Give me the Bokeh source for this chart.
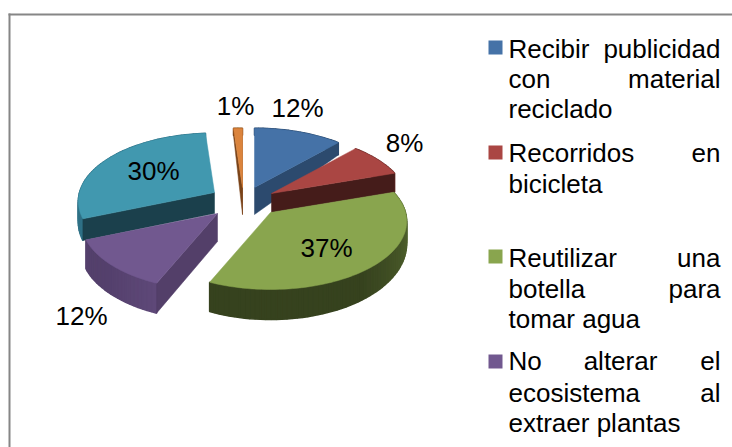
import numpy as np
from bokeh.plotting import figure
from bokeh.embed import file_html
from bokeh.resources import INLINE
from bokeh.core.properties import value

# ---- data ----
categories = ["Recibir publicidad con material reciclado", "Recorridos en bicicleta",
              "Reutilizar una botella para tomar agua", "No alterar el ecosistema al extraer plantas",
              "", ""]
values = [11.9, 8.0, 36.6, 12.4, 29.9, 1.2]
labels = [f"{round(v)}%" for v in values]
legend_lines = [
    [["Recibir", "publicidad"], ["con", "material"], ["reciclado"]],
    [["Recorridos", "en"], ["bicicleta"]],
    [["Reutilizar", "una"], ["botella", "para"], ["tomar agua"]],
    [["No", "alterar", "el"], ["ecosistema", "al"], ["extraer plantas"]],
]

# ---- styling / layout (page pixel coordinates) ----
top_colors = ["#4572A7", "#AA4643", "#89A54E", "#71588F", "#4198AF", "#DB843D"]
wall_colors = ["#2C4A6E", "#451C1A", "#3A4620", "#533F69", "#1B404C", "#7A4318"]
rim_a = ["#2C4A6E", "#6E2E2C", "#5F7436", "#5E4878", "#2F7186", "#8F5526"]
rim_b = ["#2C4A6E", "#6E2E2C", "#36421E", "#54406C", "#2F7186", "#8F5526"]
apex = [(254, 187), (271, 193), (270, 212), (217, 213), (214, 192), (242, 187)]
depth0 = [27, 19, 21, 28, 21, 27]
depth1 = [20, 0, 9, 2, 2, 20]
# which cut faces (start, end) of each slice can be seen
cut_visible = [(False, True), (False, True), (False, False), (True, False), (True, False), (True, True)]
draw_order = [5, 0, 1, 4, 3, 2]
A, B, P = 135.0, 67.0, 0.13
label_pos = [(297, 107), (404, 142), (326, 247), (81, 315), (153, 170), (235, 105)]
FONT = value("Liberation Sans")
SIZE = value("26px")

p = figure(width=732, height=447, x_range=(0, 732), y_range=(447, 0),
           x_axis_location=None, y_axis_location=None, toolbar_location=None,
           output_backend="svg", min_border=0, outline_line_color=None,
           background_fill_color="white", border_fill_color="white")
p.grid.visible = False

# frame of the chart, clipped by the picture on the right and at the bottom
p.line([8, 732], [14, 14], line_color="#868686", line_width=2)
p.line([9, 9], [13, 447], line_color="#868686", line_width=2)


def project(i, theta):
    X, Y = np.sin(theta), -np.cos(theta)
    s = 1.0 / (1.0 - P * Y)
    x = apex[i][0] + A * X * s
    y = apex[i][1] + B * Y * s
    d = depth0[i] + depth1[i] * Y
    return x, y, d


def hex2rgb(h):
    return np.array([int(h[k:k + 2], 16) for k in (1, 3, 5)], dtype=float)


def mix(a, b, t):
    c = hex2rgb(a) * (1 - t) + hex2rgb(b) * t
    return "#%02x%02x%02x" % tuple(int(round(v)) for v in c)


cum = np.cumsum([0] + values) / float(sum(values)) * 2 * np.pi

for i in draw_order:
    t0, t1 = cum[i], cum[i + 1]
    ax, ay = apex[i]
    wall = wall_colors[i]
    # outer rim, shaded along the arc
    th = np.linspace(t0, t1, max(3, int((t1 - t0) * 30)))
    for k in range(len(th) - 1):
        xa, ya, da = project(i, th[k])
        xb, yb, db = project(i, th[k + 1])
        c = mix(rim_a[i], rim_b[i], min(1.0, k / max(1, (len(th) - 2) * 0.55)))
        p.patch([xa, xb, xb, xa], [ya, yb, yb + db, ya + da],
                fill_color=c, line_color=c, line_width=1.5)
    # cut faces
    for t, vis in zip((t0, t1), cut_visible[i]):
        if vis:
            x, y, d = project(i, t)
            p.patch([ax, x, x, ax], [ay, y, y + d, ay + depth0[i]],
                    fill_color=wall, line_color=wall, line_width=0.5)
    # top face
    th = np.linspace(t0, t1, 80)
    xs, ys, _ = project(i, th)
    p.patch(np.r_[ax, xs], np.r_[ay, ys], fill_color=top_colors[i],
            line_color=top_colors[i], line_width=0.5)

# data labels
p.text([q[0] for q in label_pos], [q[1] for q in label_pos], text=labels,
       text_font=FONT, text_font_size=SIZE, text_align="center",
       text_baseline="middle", text_color="#000000")

# legend with justified text
swatch_y = [47, 152, 256, 361]
line_mid = [[48, 78, 108], [152, 183], [257, 288, 318], [360, 392, 422]]
TEXT_L, TEXT_R = 508, 720
p.rect([495] * 4, swatch_y, width=14, height=14, fill_color=top_colors[:4], line_color=None)

lx, ly, lt, la = [], [], [], []
for block, bl in zip(legend_lines, line_mid):
    for words, y in zip(block, bl):
        if len(words) == 1:
            lx.append(TEXT_L); ly.append(y); lt.append(words[0]); la.append("left")
        elif len(words) == 2:
            lx += [TEXT_L, TEXT_R]; ly += [y, y]; lt += words; la += ["left", "right"]
        else:
            lx += [TEXT_L, (TEXT_L + TEXT_R) / 2 + 6, TEXT_R]; ly += [y] * 3
            lt += words; la += ["left", "center", "right"]
p.text(lx, ly, text=lt, text_font=FONT, text_font_size=SIZE,
       text_align=la, text_baseline="middle", text_color="#000000")

open("out.html", "w").write(file_html(p, INLINE))
